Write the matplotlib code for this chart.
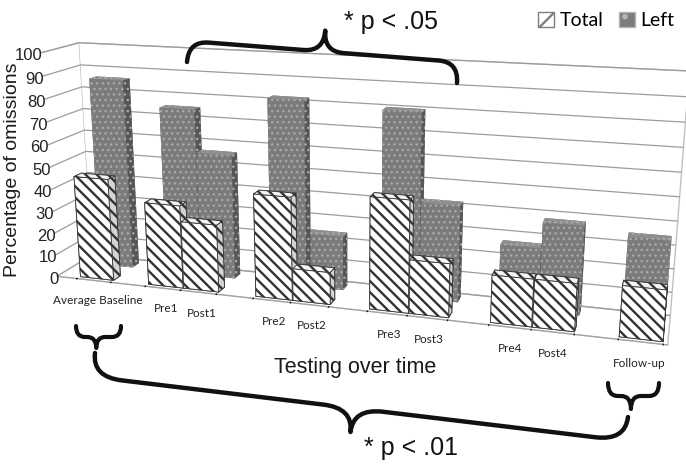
import matplotlib
matplotlib.use('Agg')
import matplotlib.pyplot as plt
import numpy as np
from matplotlib.patches import Patch, PathPatch
from matplotlib.path import Path
from mpl_toolkits.mplot3d import proj3d

plt.rcParams['font.family'] = ['Liberation Sans', 'DejaVu Sans']

# Слоти по осі X (порожні - проміжки між групами)
slots = ['Average Baseline', '', 'Pre1', 'Post1', '', 'Pre2', 'Post2', '',
         'Pre3', 'Post3', '', 'Pre4', 'Post4', '', 'Follow-up']
sessions = ['Average Baseline', 'Pre1', 'Post1', 'Pre2', 'Post2',
            'Pre3', 'Post3', 'Pre4', 'Post4', 'Follow-up']
total = [46, 37, 30, 45, 14, 48, 23, 20, 20, 21]
left = [86, 75, 56, 82, 24, 80, 42, 27, 38, 35]
yticks = list(range(0, 101, 10))

W, H = 686, 467
fig = plt.figure(figsize=(W / 100, H / 100), dpi=100)
ax = fig.add_axes([0.0, 0.098, 1.0, 1.0], projection='3d')

n = len(sessions)
xpos = np.array([slots.index(s) for s in sessions], dtype=float)
bw = 0.98   # ширина стовпця
bd = 0.35   # глибина стовпця
x0, x1 = -1.1, len(slots) - 0.4
y0, y1 = -0.15, 1.6

# кольори граней: -z, +z, -y, +y, -x, +x
total_faces = ['white', '#f4f4f4', 'white', 'white', '#e6e6e6', '#d4d4d4'] * n
left_faces = ['#7d7d7d', '#8e8e8e', '#7b7b7b', '#7b7b7b', '#6a6a6a', '#565656'] * n

plt.rcParams['hatch.linewidth'] = 1.0
bars_left = ax.bar3d(xpos - bw / 2, np.full(n, 1.0), np.zeros(n), bw, bd,
                     left, color=left_faces, edgecolor='#a9a9a9',
                     linewidth=0, hatch='...', shade=False)
plt.rcParams['hatch.linewidth'] = 1.7
bars_total = ax.bar3d(xpos - bw / 2, np.zeros(n), np.zeros(n), bw, bd,
                      total, color=total_faces, edgecolor='#333333',
                      linewidth=0.6, hatch='\\\\\\', shade=False)
# 3D-осі обрізають усе до квадрата - вимикаємо
bars_left.set_clip_on(False)
bars_total.set_clip_on(False)

ax.set_xlim(x0, x1)
ax.set_ylim(y0, y1)
ax.set_zlim(0, 100)
# поділки між категоріями, як в Excel
ax.set_xticks(np.arange(len(slots) + 1) - 0.5)
ax.set_xticklabels([])
ax.set_yticks([])
ax.set_zticks(yticks)
ax.set_zticklabels([])

ax.view_init(elev=15, azim=-73)
ax.set_proj_type('persp', focal_length=0.45)
ax.set_box_aspect((8.4, 1.0, 3.2), zoom=1.42)

for axis in (ax.xaxis, ax.yaxis, ax.zaxis):
    axis.set_pane_color((1, 1, 1, 1))
    axis.pane.set_edgecolor('#c0c0c0')
    axis.line.set_color('#a0a0a0')
ax.yaxis.line.set_color((1, 1, 1, 0))
ax.zaxis.line.set_color((1, 1, 1, 0))
ax.zaxis._axinfo['tick'].update(inward_factor=0, outward_factor=0)
ax.xaxis.gridlines.set_visible(False)
ax.yaxis.gridlines.set_visible(False)
ax.zaxis._axinfo['grid'].update(color='#9c9c9c', linewidth=0.9)

# підписи осей: проєкція 3D-точок у пікселі
fig.canvas.draw()
M = ax.get_proj()


def place(x, y, z, s, dx=0, dy=0, **kw):
    px, py, _ = proj3d.proj_transform(x, y, z, M)
    X, Y = ax.transData.transform((px, py))
    fig.text((X + dx) / W, (Y + dy) / H, s, **kw)


for v in yticks:
    place(x0 - 0.05, y0, v, str(v), dx=3, dy=-3, ha='right', va='center',
          fontsize=12, color='#222222')
for i, s in enumerate(slots):
    if s:
        place(i, 0, -8, s, ha='center', va='top',
              fontfamily='Lato', fontsize=8.5, color='#222222')


def to_fig(px, py):
    return px / W, 1 - py / H


def brace(p0, p1, h, r, frac=0.5, up=True, lw=3.2):
    p0 = np.array(p0, float)
    p1 = np.array(p1, float)
    L = np.linalg.norm(p1 - p0)
    u = (p1 - p0) / L
    nrm = np.array([u[1], -u[0]]) if up else np.array([-u[1], u[0]])
    a = h / 2
    m = frac * L
    local = [(0, 0), (0, a), (r, a), (m - r, a), (m, a), (m, h),
             (m, a), (m + r, a), (L - r, a), (L, a), (L, 0)]
    codes = [Path.MOVETO, Path.CURVE3, Path.CURVE3, Path.LINETO,
             Path.CURVE3, Path.CURVE3, Path.CURVE3, Path.CURVE3,
             Path.LINETO, Path.CURVE3, Path.CURVE3]
    pts = [to_fig(*(p0 + s * u + t * nrm)) for s, t in local]
    fig.patches.append(PathPatch(Path(pts, codes), transform=fig.transFigure,
                                 facecolor='none', edgecolor='#111111',
                                 linewidth=lw, capstyle='round',
                                 joinstyle='round'))


brace((187, 62), (457, 83), 42, 20, 0.5, up=True)
brace((95, 353), (628, 417), 48, 30, 0.49, up=False)
brace((76, 326), (121, 326), 22, 9, 0.45, up=False, lw=3.0)
brace((608, 383), (659, 383), 26, 10, 0.45, up=False, lw=3.0)

fig.text(*to_fig(391, 22), '* p < .05', ha='center', va='center',
         fontsize=18, color='#111111')
fig.text(*to_fig(411, 448), '* p < .01', ha='center', va='center',
         fontsize=18, color='#111111')
fig.text(*to_fig(355, 368), 'Testing over time', ha='center', va='center',
         fontsize=15.5, color='#1a1a1a')
fig.text(*to_fig(13, 170), 'Percentage of omissions', ha='center',
         va='center', rotation=90, fontsize=14, color='#1a1a1a')

handles = [Patch(facecolor='white', edgecolor='#7f7f7f', hatch='/'),
           Patch(facecolor='#7b7b7b', edgecolor='#b4b4b4', hatch='.')]
fig.legend(handles, ['Total', 'Left'], loc='upper right',
           bbox_to_anchor=(1.0, 1.0), ncol=2, frameon=False,
           prop={'family': 'Lato', 'size': 14}, handlelength=0.8,
           handleheight=0.8, columnspacing=0.8, handletextpad=0.3,
           borderaxespad=0.2)

fig.savefig('out.png', dpi=100)
